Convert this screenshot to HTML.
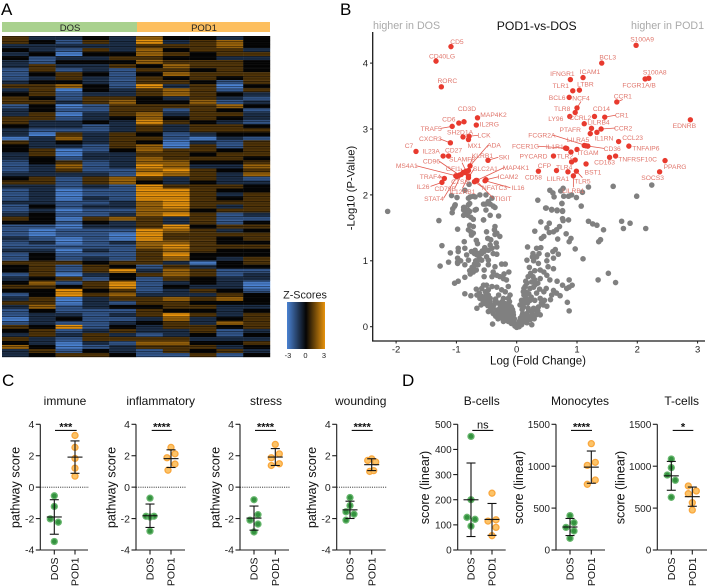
<!DOCTYPE html>
<html lang="en">
<head>
<meta charset="utf-8">
<title>POD1 vs DOS figure</title>
<style>
html,body{margin:0;padding:0;background:#fff;}
svg{display:block;font-family:"Liberation Sans",Arial,sans-serif;}
</style>
</head>
<body>
<svg id="fig" xmlns="http://www.w3.org/2000/svg" width="708" height="588" viewBox="0 0 708 588">
  <defs>
    <linearGradient id="zgrad" x1="0" x2="1" y1="0" y2="0">
      <stop offset="0" stop-color="#4a82d2"/>
      <stop offset="0.5" stop-color="#050505"/>
      <stop offset="1" stop-color="#e8930c"/>
    </linearGradient>
    <pattern id="stripes" patternUnits="userSpaceOnUse" x="0" y="36" width="10" height="5">
      <rect x="0" y="0" width="10" height="1.2" fill="#000" opacity="0.42"/>
      <rect x="0" y="2.4" width="10" height="1" fill="#000" opacity="0.28"/>
      <rect x="0" y="1.2" width="10" height="0.6" fill="#fff" opacity="0.03"/>
    </pattern>
  </defs>
  <text x="1" y="15" font-size="17">A</text>
  <text x="340" y="15" font-size="17">B</text>
  <text x="2" y="386" font-size="17">C</text>
  <text x="402" y="386" font-size="17">D</text>

  <rect x="2" y="22" width="135" height="10" fill="#a9d18e"/>
  <rect x="137" y="22" width="133" height="10" fill="#fdbf5f"/>
  <text x="70" y="31" font-size="9.5" text-anchor="middle" fill="#222">DOS</text>
  <text x="204" y="31" font-size="9.5" text-anchor="middle" fill="#222">POD1</text>
  <g id="heatmap"></g>
  <rect x="2" y="36" width="268" height="321" fill="url(#stripes)"/>

  <text x="305" y="298.5" font-size="10.8" text-anchor="middle" fill="#222">Z-Scores</text>
  <rect x="287" y="302" width="38" height="47" fill="url(#zgrad)"/>
  <text x="288" y="358" font-size="7.5" text-anchor="middle" fill="#222">-3</text>
  <text x="305.5" y="358" font-size="7.5" text-anchor="middle" fill="#222">0</text>
  <text x="324" y="358" font-size="7.5" text-anchor="middle" fill="#222">3</text>

  <g id="volcano"></g>
  <text x="373" y="29" font-size="10.7" fill="#aaaaaa">higher in DOS</text>
  <text x="536.7" y="30" font-size="12.2" text-anchor="middle" fill="#111">POD1-vs-DOS</text>
  <text x="631" y="29" font-size="10.7" fill="#aaaaaa">higher in POD1</text>
  <text x="538" y="364.5" font-size="11.5" text-anchor="middle" fill="#111">Log (Fold Change)</text>
  <text transform="translate(354.5,188) rotate(-90)" font-size="11.2" text-anchor="middle" fill="#111">-Log10 (P-Value)</text>

  <g id="panels"></g>
</svg>

<script>
/* ---------- Heatmap data: z-scores, one row per gene, columns = samples ---------- */
const heatColumns = ['DOS1','DOS2','DOS3','DOS4','DOS5','POD1-1','POD1-2','POD1-3','POD1-4','POD1-5'];
const heatValues = [
[1,-1,-1,0,-1,2,0,0,-1,0],[1,0,-2,1,-1,3,-1,1,2,0],[-1,-1,-1,-1,-1,1,1,1,2,0],[0,-1,-2,1,-1,2,0,1,1,-1],
[-1,0,-3,0,0,2,1,0,1,1],[0,-2,-1,-1,1,1,0,0,-1,-1],[-1,-2,0,0,0,2,1,1,1,0],[-1,1,-1,-1,1,0,2,1,1,0],
[-2,1,-2,-1,-2,1,1,0,1,0],[-2,0,1,0,-2,0,2,1,1,1],[-2,-1,1,-1,-2,1,0,1,0,1],[-1,0,0,-1,-2,1,1,0,-2,1],
[1,1,2,0,-2,3,-1,1,-3,0],[-1,1,-3,0,-1,1,2,1,-2,1],[0,1,-2,-1,-1,1,2,1,0,-1],[1,0,-2,1,1,0,-1,1,-1,-2],
[1,1,-1,1,2,0,0,2,-2,-1],[-2,0,-3,-2,1,1,1,1,2,0],[-1,0,-2,-2,1,1,-2,1,0,-2],[-1,1,-3,-1,1,2,-1,1,1,-1],
[1,1,-2,-1,0,2,0,1,0,-1],[1,-1,-1,0,-1,3,1,0,-1,-2],[0,-1,-1,-2,-1,1,-1,1,1,0],[-1,-2,-2,-2,-1,1,-1,1,1,1],
[-1,-3,1,-1,1,0,-2,-1,0,0],[-3,-1,2,-1,1,1,-2,-3,-1,-2],[1,-1,0,-1,1,0,-3,-1,-2,1],[0,-1,-1,-2,1,2,-3,1,-2,1],
[0,1,-3,-2,0,2,1,1,0,1],[-1,1,-3,-1,-1,1,1,0,1,1],[-1,0,-2,-1,-1,2,1,1,1,0],[-2,0,1,-2,-1,2,2,0,0,1],
[-2,-1,2,-2,-1,3,2,-1,-1,2],[-2,-1,1,-2,-2,2,3,1,0,1],[-1,-1,-1,-1,-2,3,2,1,-1,2],[0,1,-2,1,2,1,-1,1,-1,-2],
[1,1,-2,1,2,0,-1,0,-1,-1],[-1,-1,-2,-1,-2,3,1,1,1,0],[-2,-1,-3,-2,-2,3,3,1,0,0],[-2,-1,-3,-2,-2,3,3,1,-1,1],
[-2,-1,-3,-1,-2,3,3,1,0,1],[-1,-1,-2,-2,-1,2,3,1,1,1],[-2,0,-2,-1,-1,2,3,1,-1,1],[-2,-1,-3,-2,-2,2,2,0,1,1],
[-1,0,-2,-2,-1,2,3,1,-2,-1],[1,0,-3,1,2,1,-1,1,-2,-2],[0,0,-2,0,-1,1,-1,1,-2,0],[-2,-2,-3,-1,-1,1,3,0,1,1],
[-2,-3,-2,-2,-2,3,2,1,-1,0],[-2,-3,-2,-2,-3,3,1,1,1,1],[-1,-2,-3,-2,-3,3,1,1,0,1],[-2,-1,-3,-2,-1,2,2,1,0,0],
[-2,-2,-2,-2,-2,2,3,1,1,1],[-1,-1,-3,-1,-2,1,2,1,0,0],[-2,0,-2,-2,-2,1,3,0,0,0],[-2,0,-2,-1,-2,1,2,0,-1,1],
[1,1,1,0,1,1,-1,-3,0,1],[0,1,-2,1,0,-2,1,-1,0,0],[0,1,-2,1,3,-1,2,1,-2,-2],[-2,1,-3,-1,0,1,2,1,-2,-1],
[-1,0,1,-2,0,-2,1,0,-1,-1],[0,2,-2,1,3,-2,-1,0,-1,-3],[1,1,0,1,3,-2,0,-1,-1,-3],[0,0,3,0,1,-2,-1,1,0,-2],
[-2,0,3,1,2,-1,-1,-1,1,0],[-1,1,-3,-1,1,1,2,1,2,0],[1,1,-3,-1,-2,1,1,0,0,0],[-1,2,-2,-1,0,0,1,1,-1,-1],
[-2,0,-2,-2,-2,1,0,0,-1,0],[-2,-1,-1,-2,-1,1,3,1,-1,1],[-3,-1,0,-2,-2,-1,2,-1,0,1],[-2,-1,-2,-2,-1,0,1,-1,2,1],
[1,0,3,-2,0,-1,1,1,0,1],[0,1,-2,-1,1,-1,-1,1,-2,-1],[-1,1,-1,1,-1,-2,-1,0,-2,0],[1,-1,-2,1,1,1,1,-1,-1,-1],
[0,-1,-3,-1,-2,2,2,0,0,1],[2,0,-3,-2,-1,1,1,1,-1,0],[-1,1,-2,0,-1,-2,1,0,1,-1],[-1,0,1,1,0,-2,-2,1,-2,0]
];

/* ---------- Volcano data ---------- */
const volcanoXTicks = [-2,-1,0,1,2,3];
const volcanoYTicks = [0,1,2,3,4];
const greyLogFC = [
-2.14,-1.29,-1.08,-.99,-1.06,-1.02,-.98,-.88,-.88,-.87,
-.80,-.84,-.78,-.81,-.76,-.69,-.72,-.55,-.51,-.36,
-.39,-.44,-.52,-.80,-.77,-.72,-.61,-.51,-.41,-.86,
-.79,-.78,-.80,-.76,-.75,-.72,-.50,-.36,-.37,-.48,
-.43,-.28,-.87,-.67,-.65,-.97,-.86,-.97,-.98,-.98,
-.93,-.86,-.80,-.69,-.70,-.75,-.64,-.58,-.54,-.47,
-.41,-.33,-.44,-.34,-.39,-.33,-.47,-.50,-.58,-.66,
-.83,-.69,-.66,-.64,-.72,-.75,-.77,-.72,-.67,-.54,
-.47,-.36,-.25,-.19,-.39,-.41,-.33,-.54,-.86,-.28,
-.22,-.13,-.21,-.17,-1.03,-.97,-.86,-.76,-.67,-.66,
-.66,-.59,-.62,-.58,-.55,-.50,-.52,-.47,-.58,-.52,
-.47,-.61,-.44,-.50,-.41,-.33,-.25,-.30,-.19,-.14,
-.11,-.14,-.22,-.36,-.28,-.19,-.11,-.44,-.47,-.39,
-.33,-.28,-.39,-.40,-.30,-.22,-.17,-.11,-.25,-.19,
-.14,-.08,-.055,-.03,0,-.08,-.17,-.11,-.22,-.055,
-.14,-.22,-1.03,-1.07,-.78,-.55,-.47,-.44,-.30,-.55,
-.81,-.88,-.67,-.72,-.33,-.36,-.69,-.47,-.98,-1.24,
-1.27,-1.13,-1.10,-.06,-.12,-.16,-.04,-.09,-.24,-.3,
1.07,.97,1.10,1.52,1.35,1.64,.75,.49,.58,.67,
.76,.86,.76,.77,.40,.54,.30,.50,.71,.66,
.61,.54,.45,.41,.68,.82,.90,.87,.18,.33,
.40,.27,.37,.64,.60,.69,.51,.61,.50,.17,
.28,.36,.26,.33,.52,.61,.45,.50,.39,.30,
.23,.19,.39,.30,.25,.17,.14,.55,.67,.76,
.87,.92,.87,.83,.49,.38,.28,.22,.33,.61,
.58,.66,.72,.56,.84,.87,.45,.11,.14,.08,
.22,.30,.39,.44,.36,.28,.19,.11,.055,.50,
.39,.32,.25,.17,.10,.22,.14,.08,.03,.25,
.17,.08,.04,.11,.06,.13,.2,.16,.09,.12,
1.60,2.24,1.19,1.09,.55,.60,.62,.73,.77,.78,
.86,.91,.99,.35,.75,.48,.58,.67,.76,1.99,
1.19,1.26,1.33,1.44,1.74,1.88,1.77,2.14,1.39,1.36,
-.78,-.74,-.70,-.68,-.62,-.60,-.57,-.53,-.49,-.45,
-.56,-.52,-.48,-.44,-.42,-.38,-.35,-.31,-.27,-.24,
-.35,-.31,-.27,-.25,-.21,-.18,-.15,-.13,-.10,-.07,
-.09,-.06,-.04,-.02,.02,.04,.06,.09,.11,.14,
.16,.19,.23,.26,.29,.32,.35,.41,.46,.12,
.16,.20,.15,.24,.18,.13,.21,.27,.31,.35
];
const greyLogP = [
1.75,1.61,1.99,1.96,1.79,1.85,1.48,1.77,1.69,1.81,
1.85,1.71,1.75,1.69,1.66,1.77,1.63,1.62,1.77,1.81,
1.83,1.86,1.86,1.95,1.97,1.98,2.0,2.0,1.95,2.07,
2.16,1.54,1.47,1.44,1.39,1.42,1.44,1.52,1.47,1.34,
1.32,1.37,1.29,1.31,1.26,1.19,1.19,1.14,1.04,.98,
1.0,.94,1.01,1.16,1.11,1.14,1.11,1.11,1.14,1.16,
1.19,1.21,1.24,1.27,1.11,1.10,1.01,1.06,1.01,1.09,
1.09,.94,.99,.94,.89,.83,.80,.83,.86,.86,
.94,.91,.95,.95,.83,.76,.78,.76,.75,.76,
.73,.83,.80,.71,.66,.69,.50,.47,.57,.48,
.28,.33,.51,.58,.63,.63,.53,.56,.46,.46,
.48,.43,.43,.40,.61,.60,.56,.48,.53,.61,
.48,.43,.43,.38,.35,.35,.30,.30,.23,.28,
.25,.28,.20,.04,.20,.20,.18,.23,.13,.10,
.08,.15,.08,.01,-.01,.05,.13,.10,.08,.18,
.28,.15,1.83,1.73,1.87,1.86,1.87,1.69,1.68,1.62,
1.77,1.81,1.78,1.52,1.42,1.40,1.97,1.90,.96,1.23,
.92,.98,1.12,.22,.38,.25,.12,.30,.32,.14,
1.83,1.18,1.03,.81,.71,.67,1.87,1.80,1.77,1.76,
1.75,1.62,1.64,1.61,1.59,1.57,1.45,1.50,1.52,1.47,
1.44,1.43,1.37,1.34,1.33,1.41,1.34,1.29,1.21,1.19,
1.20,1.11,1.11,1.17,1.14,1.10,1.09,1.04,1.0,1.01,
1.0,.96,1.06,1.06,.91,.88,.83,.78,.86,.85,
.81,.76,.73,.71,.68,.66,.61,.71,.69,.63,
.71,.63,.60,.58,.58,.57,.60,.58,.51,.55,
.48,.51,.47,.41,.37,.24,.53,.53,.46,.40,
.40,.40,.43,.33,.30,.28,.28,.30,.33,.31,
.18,.18,.23,.20,.20,.15,.13,.10,.05,.03,
.06,.03,0,.15,.08,.36,.24,.42,.26,.58,
2.13,2.15,2.12,2.04,2.07,2.03,1.97,2.06,2.10,1.98,
1.98,2.0,1.96,1.92,1.87,1.80,1.78,1.77,1.76,1.98,
1.60,1.56,1.54,1.47,1.60,1.57,1.49,1.49,1.32,1.29,
.85,.9,.95,1.0,1.04,1.12,1.15,1.2,.35,.38,
.40,.35,.32,.34,.26,.33,.42,.36,.22,.38,
.16,.12,.18,.24,.26,.30,.22,.36,.17,.26,
.05,.11,.05,.03,.02,.08,.13,.17,.07,.19,
.10,.15,.11,.18,.12,.25,.24,.36,.40,.48,
.52,.50,.69,.45,.36,.40,.90,.76,.64,.66
];
const geneNames = [
'CD5','CD40LG','RORC','CD3D','CD6','MAP4K2','IL2RG','TRAF5','SH2D1A','LCK',
'MX1','CXCR3','C7','IL23A','CD27','SKI','ADA','KLRB1','SLAMF8','GFI1',
'CD96','MS4A1','SLC2A1','TRAF4','IL26','ICAM2','IL16','MAP4K1','NFATC3','STAT4',
'CD79B','CTSS','IL12RB1','TIGIT',
'S100A9','BCL3','IFNGR1','ICAM1','S100A8','FCGR1A/B','TLR1','LTBR','BCL6','NCF4',
'CCR1','TLR8','LY96','CD14','CR1','CCRL2','LILRB4','CCR2','PTAFR','IL1RN',
'EDNRB','CCL23','TNFAIP6','FCGR2A','CD36','LILRA5','FCER1G','IL1R1','ITGAM','TLR2',
'PYCARD','TNFRSF10C','CD163','PPARG','TLR4','','CFP','BST1','CD58','SOCS3',
'LILRA1','TLR5','LILRB1'
];
const geneLogFC = [
-1.09,-1.338,-1.25,-.874,-.96,-.65,-.67,-1.07,-.89,-.79,
-.80,-1.10,-1.67,-1.22,-1.13,-.476,-.774,-.80,-.84,-.886,
-.95,-1.01,-.80,-1.20,-1.24,-.51,-.525,-.66,-.70,-.99,
-.92,-.857,-.80,-.675,
1.98,1.41,.89,1.10,2.19,2.13,.93,1.04,.87,1.0,
1.66,.97,.88,1.29,1.46,1.12,1.24,1.40,1.22,1.33,
2.88,1.69,1.86,1.18,1.12,1.15,.81,.83,1.0,.90,
.61,1.64,1.54,2.46,.97,.91,.66,1.15,.36,2.37,
.85,.99,.94
];
const geneLogP = [
4.25,4.03,3.64,3.11,3.09,3.17,3.06,3.04,2.88,2.89,
2.84,2.79,2.66,2.59,2.59,2.525,2.44,2.37,2.36,2.34,
2.30,2.29,2.26,2.25,2.19,2.23,2.215,2.22,2.20,2.28,
2.31,2.34,2.29,2.22,
4.27,4.0,3.75,3.78,3.77,3.76,3.58,3.59,3.48,3.32,
3.41,3.25,3.19,3.19,3.18,3.08,3.01,3.0,2.93,2.95,
3.14,2.81,2.74,2.74,2.75,2.745,2.71,2.705,2.69,2.65,
2.59,2.59,2.57,2.52,2.53,2.5,2.37,2.47,2.36,2.35,
2.35,2.36,2.29
];
/* label placement, relative to each gene's point */
const labelNudgeX = [
6,6,6,3,-10,16,13,-21,-3,15,
6,-20,-7,-12,5,16,24,14,-4,-10,
-28,-49,17,-14,-19,22,33,39,20,-23,
-16,-5,-6,27,
6,6,-8,7,6,-6,-12,6,-12,4,
6,-13,-14,7,17,-4,7,22,-20,7,
-6,14,17,-46,28,-8,-40,-12,11,-6,
-20,22,-5,10,-11,0,-12,7,-5,-7,
-10,6,0
];
const labelNudgeY = [
-5,-5,-6,-13,-4,-3,-1,2,-5,-1,
6,-4,-6,-5,-6,-3,-21,-15,-12,-4,
-14,-10,-9,-2,4,-3,7,-13,6,22,
14,9,16,18,
-6,-6,-6,-6,-6,6,-5,-6,0,-10,
-6,-4,2,-8,-2,-6,-6,-1,-4,6,
6,-4,2,-11,3,-6,-2,-2,3,4,
0,3,5,6,7,0,-5,8,6,6,
7,10,15
];
const leaderGenes = ['MS4A1','CD96','GFI1','SLAMF8','KLRB1','ADA','SLC2A1','MAP4K1','ICAM2','IL16','NFATC3','TIGIT','STAT4','CD79B','IL26','TRAF4','CXCR3','TRAF5','SKI','LCK','FCGR2A','CD36','FCER1G','CCR2','CR1','CCR1','NCF4','LILRB1','TLR5','IL12RB1'];

/* ---------- Panel C: pathway scores ---------- */
const pathwayTicks = [-4,-2,0,2,4];
const immuneDOS = [-0.55,-1.23,-2.02,-2.23,-3.46];
const immunePOD1 = [3.29,2.53,1.83,1.21,0.70];
const inflammatoryDOS = [-0.70,-1.85,-1.85,-1.90,-2.80];
const inflammatoryPOD1 = [2.53,2.12,1.87,1.47,1.08];
const stressDOS = [-0.80,-1.75,-2.10,-2.35,-2.85];
const stressPOD1 = [2.72,2.12,1.87,1.49,1.38];
const woundingDOS = [-0.66,-1.17,-1.57,-1.72,-2.10];
const woundingPOD1 = [1.80,1.70,1.60,1.00,1.05];

/* ---------- Panel D: cell-type scores ---------- */
const bCellTicks = [0,100,200,300,400,500];
const cellTicks = [0,500,1000,1500];
const bCellsDOS = [452,200,130,122,95];
const bCellsPOD1 = [226,115,120,90,57];
const monocytesDOS = [410,326,270,227,139];
const monocytesPOD1 = [1269,1046,1010,835,784];
const tCellsDOS = [1086,983,895,832,629];
const tCellsPOD1 = [764,704,672,565,477];

const SVGNS = 'http://www.w3.org/2000/svg';
function make(tag, parent, attrs, txt){
  const e = document.createElementNS(SVGNS, tag);
  for (const k in attrs) e.setAttribute(k, attrs[k]);
  if (txt !== undefined) e.textContent = txt;
  parent.appendChild(e);
  return e;
}

/* ---- heatmap ---- */
(function(){
  const g = document.getElementById('heatmap');
  const left = 2, top = 36, width = 268, height = 321;
  const cw = width / heatColumns.length, rh = height / heatValues.length;
  const neg = [74,130,210], pos = [232,147,12], mid = [5,5,5];
  function zColor(v){
    const t = Math.min(1, Math.abs(v) / 3), c = v < 0 ? neg : pos;
    return 'rgb(' + [0,1,2].map(i => Math.round(mid[i] + (c[i] - mid[i]) * t)).join(',') + ')';
  }
  heatValues.forEach((row, r) => {
    row.forEach((v, c) => {
      const cell = make('rect', g, {x: left + c * cw, y: top + r * rh, width: cw + 0.2, height: rh + 0.2, fill: zColor(v)});
      
      
    });
  });
})();

/* ---- volcano ---- */
(function(){
  const g = document.getElementById('volcano');
  const xS = v => 516.7 + v * 60.3;
  const yS = v => 326.7 - v * 65.9;
  const ink = '#1a1a1a';
  const n = Math.min(greyLogFC.length, greyLogP.length);
  for (let i = 0; i < n; i++){
    const p = make('circle', g, {cx: xS(greyLogFC[i]), cy: yS(greyLogP[i]), r: 2.8, fill: '#808080'});
    
    
  }
  const yAxis = make('line', g, {x1: 372.7, x2: 372.7, y1: 32, y2: 341.5, stroke: ink, 'stroke-width': 1.3});
  
  
  const xAxis = make('line', g, {x1: 372, x2: 705, y1: 341, y2: 341, stroke: ink, 'stroke-width': 1.3});
  
  
  volcanoXTicks.forEach(t => {
    make('line', g, {x1: xS(t), x2: xS(t), y1: 341, y2: 343.5, stroke: ink, 'stroke-width': 1});
    const lab = make('text', g, {x: xS(t), y: 352.5, 'font-size': 9.5, 'text-anchor': 'middle', fill: '#222'}, String(t));
    
    
  });
  volcanoYTicks.forEach(t => {
    make('line', g, {x1: 370, x2: 372.7, y1: yS(t), y2: yS(t), stroke: ink, 'stroke-width': 1});
    const lab = make('text', g, {x: 368, y: yS(t) + 3.4, 'font-size': 9.5, 'text-anchor': 'end', fill: '#222'}, String(t));
    
    
  });
  const red = '#e83a2e', lab = '#e0766c';
  geneNames.forEach((name, i) => {
    const px = xS(geneLogFC[i]), py = yS(geneLogP[i]);
    const lx = px + labelNudgeX[i], ly = py + labelNudgeY[i];
    if (leaderGenes.indexOf(name) >= 0){
      const halfW = name.length * 1.9;
      let ex = lx, ey = ly;
      if (Math.abs(labelNudgeX[i]) > halfW) ex = lx - Math.sign(labelNudgeX[i]) * halfW;
      else ey = ly - Math.sign(labelNudgeY[i]) * 3.5;
      const leader = make('line', g, {x1: px, y1: py, x2: ex, y2: ey, stroke: '#e2574c', 'stroke-width': 0.8});
      
      
    }
  });
  geneNames.forEach((name, i) => {
    const px = xS(geneLogFC[i]), py = yS(geneLogP[i]);
    const p = make('circle', g, {cx: px, cy: py, r: 2.7, fill: red});
    
    
  });
  geneNames.forEach((name, i) => {
    if (!name) return;
    const px = xS(geneLogFC[i]), py = yS(geneLogP[i]);
    const t = make('text', g, {x: px + labelNudgeX[i], y: py + labelNudgeY[i] + 2.4, 'font-size': 6.7, 'text-anchor': 'middle', fill: lab}, name);
    
    
  });
})();

/* ---- dot panels ---- */
const panelLayouts = [
  {title:'immune', dos:immuneDOS, pod:immunePOD1, ticks:pathwayTicks, ylab:'pathway score', ax:40.3, c1:54.3, c2:75, end:88, sig:'***', jd:[0,0,-4,4,0], jp:[0,0,0,0,0], titleX:65, yt:-21, dotted:true, sx1:55, sx2:76.7},
  {title:'inflammatory', dos:inflammatoryDOS, pod:inflammatoryPOD1, ticks:pathwayTicks, ylab:'pathway score', ax:136, c1:150, c2:171, end:185, sig:'****', jd:[0,-4,4,0,0], jp:[0,4,-4,4,-3], titleX:160.7, yt:-20.5, dotted:true, sx1:151.7, sx2:171.7},
  {title:'stress', dos:stressDOS, pod:stressPOD1, ticks:pathwayTicks, ylab:'pathway score', ax:240, c1:254, c2:275.3, end:289, sig:'****', jd:[0,4,-4,4,0], jp:[0,4,-4,4,-4], titleX:266, yt:-20.5, dotted:true, sx1:255, sx2:276},
  {title:'wounding', dos:woundingDOS, pod:woundingPOD1, ticks:pathwayTicks, ylab:'pathway score', ax:336.7, c1:350, c2:371.7, end:385.7, sig:'****', jd:[0,0,-4,4,-4], jp:[0,-4,4,-2,2], titleX:360.7, yt:-20.5, dotted:true, sx1:351.7, sx2:372.7},
  {title:'B-cells', dos:bCellsDOS, pod:bCellsPOD1, ticks:bCellTicks, ylab:'score (linear)', ax:457.7, c1:471, c2:492, end:505.7, sig:'ns', jd:[0,0,-4,4,0], jp:[0,-4,4,4,0], titleX:481.7, yt:-28.5, sx1:472.3, sx2:493.3},
  {title:'Monocytes', dos:monocytesDOS, pod:monocytesPOD1, ticks:cellTicks, ylab:'score (linear)', ax:556, c1:570, c2:591.3, end:605, sig:'****', jd:[0,4,-4,4,0], jp:[0,4,-4,4,-4], titleX:580, yt:-33, sx1:571, sx2:592},
  {title:'T-cells', dos:tCellsDOS, pod:tCellsPOD1, ticks:cellTicks, ylab:'score (linear)', ax:657.3, c1:671.3, c2:692.3, end:707, sig:'*', jd:[0,0,-4,4,0], jp:[-4,4,-4,0,0], titleX:681.7, yt:-33, sx1:672.7, sx2:693.3}
];

(function(){
  const root = document.getElementById('panels');
  const ink = '#1c1c1c';
  const top = 424.3, bottom = 550;
  function meanSd(a){
    const m = a.reduce((s,v)=>s+v,0) / a.length;
    const sd = Math.sqrt(a.reduce((s,v)=>s+(v-m)*(v-m),0) / (a.length - 1));
    return [m, sd];
  }
  panelLayouts.forEach(P => {
    const g = make('g', root, {});
    
    
    const lo = P.ticks[0], hi = P.ticks[P.ticks.length - 1];
    const y = v => bottom - (v - lo) / (hi - lo) * (bottom - top);

    const title = make('text', g, {x: P.titleX, y: 405, 'font-size': 12, 'text-anchor': 'middle', fill: '#111'}, P.title);
    
    

    const yl = make('text', g, {transform: 'translate(' + (P.ax + P.yt) + ',487.5) rotate(-90)', 'font-size': 12.6, 'text-anchor': 'middle', fill: '#111'}, P.ylab);
    
    

    if (P.dotted){
      const zero = make('line', g, {x1: P.ax, x2: P.end + 1, y1: y(0), y2: y(0), stroke: '#222', 'stroke-width': 0.9, 'stroke-dasharray': '1.1 1.1'});
      
      
    }

    const groups = [
      {vals: P.dos, cx: P.c1, jit: P.jd, fill: '#34923f', stroke: '#66b56c', name: 'DOS'},
      {vals: P.pod, cx: P.c2, jit: P.jp, fill: '#fcc368', stroke: '#f9a73d', name: 'POD1'}
    ];
    groups.forEach(G => {
      G.vals.forEach((v, i) => {
        const d = make('circle', g, {cx: G.cx + (G.jit[i] || 0), cy: y(v), r: 3, fill: G.fill, stroke: G.stroke, 'stroke-width': 1.3});
        
        
      });
    });
    groups.forEach(G => {
      const ms = meanSd(G.vals), m = ms[0], sd = ms[1];
      const s = {stroke: '#111', 'stroke-width': 1.1};
      const eb = make('g', g, s);
      
      
      make('line', eb, {x1: G.cx, x2: G.cx, y1: y(m + sd), y2: y(m - sd)});
      make('line', eb, {x1: G.cx - 4.5, x2: G.cx + 4.5, y1: y(m + sd), y2: y(m + sd)});
      make('line', eb, {x1: G.cx - 4.5, x2: G.cx + 4.5, y1: y(m - sd), y2: y(m - sd)});
      make('line', eb, {x1: G.cx - 7.5, x2: G.cx + 7.5, y1: y(m), y2: y(m)});
    });

    const yAxis = make('line', g, {x1: P.ax, x2: P.ax, y1: top, y2: bottom, stroke: ink, 'stroke-width': 1.1});
    
    
    const xAxis = make('line', g, {x1: P.ax, x2: P.end, y1: bottom, y2: bottom, stroke: ink, 'stroke-width': 1.1});
    
    

    P.ticks.forEach(t => {
      make('line', g, {x1: P.ax - 4.5, x2: P.ax, y1: y(t), y2: y(t), stroke: ink, 'stroke-width': 1.1});
      const tl = make('text', g, {x: P.ax - 6, y: y(t) + 3.7, 'font-size': hi > 10 ? 10 : 10.5, 'text-anchor': 'end', fill: '#222'}, String(t));
      
      
    });
    groups.forEach(G => {
      make('line', g, {x1: G.cx, x2: G.cx, y1: bottom, y2: bottom + 4.5, stroke: ink, 'stroke-width': 1.1});
      const cl = make('text', g, {transform: 'translate(' + (G.cx + 3.7) + ',' + (bottom + 7.5) + ') rotate(-90)', 'font-size': 10.5, 'text-anchor': 'end', fill: '#111'}, G.name);
      
      
    });

    const bar = make('line', g, {x1: P.sx1, x2: P.sx2, y1: 430.4, y2: 430.4, stroke: '#111', 'stroke-width': 1.1});
    
    
    const ns = P.sig === 'ns';
    const sig = make('text', g, {x: (P.sx1 + P.sx2) / 2, y: ns ? 428.5 : 430.5, 'font-size': 11, 'font-weight': ns ? 'normal' : 'bold', 'text-anchor': 'middle', fill: '#111'}, P.sig);
    
    
  });
})();
</script>
</body>
</html>
